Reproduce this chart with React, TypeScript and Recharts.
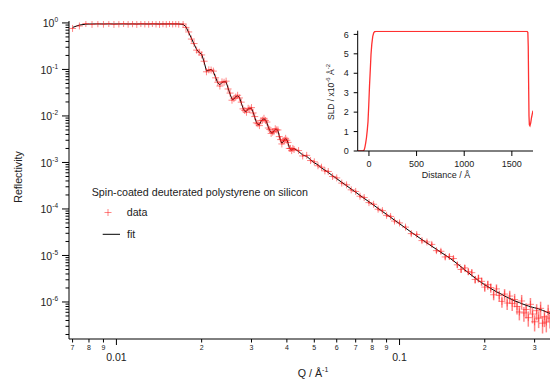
import React from "react";
import {
  ComposedChart,
  LineChart,
  Line,
  Scatter,
  ErrorBar,
  XAxis,
  YAxis,
} from "recharts";

// Q (1/Å) shared by data and fit
const qValues = [
  0.007, 0.0074, 0.0078, 0.0082, 0.0086, 0.009, 0.0094, 0.0098, 0.0102, 0.0106,
  0.011, 0.0114, 0.0118, 0.0122, 0.0126, 0.013, 0.0134, 0.0138, 0.0142, 0.0146,
  0.015, 0.0154, 0.0158, 0.0162, 0.0166,
  0.0172, 0.0176, 0.018, 0.0184, 0.0188, 0.0192, 0.0196, 0.02,
  0.0204, 0.0208, 0.0212, 0.0216, 0.022, 0.0224, 0.0228, 0.0232,
  0.0236, 0.024, 0.0244, 0.0248, 0.0252, 0.0256, 0.026, 0.0264,
  0.0268, 0.0272, 0.0276, 0.028, 0.0284, 0.0288, 0.0292, 0.0296,
  0.03, 0.0304, 0.0308, 0.0312, 0.0316, 0.032, 0.0324, 0.0328,
  0.0332, 0.0336, 0.034, 0.0344, 0.0348, 0.0352, 0.0356, 0.036,
  0.0364, 0.0368, 0.0372, 0.0376, 0.038, 0.0384, 0.0388, 0.0392,
  0.0396, 0.04, 0.0404, 0.0408, 0.0412, 0.0416, 0.042, 0.0424,
  0.044, 0.0455, 0.047, 0.0485, 0.05, 0.0515, 0.053, 0.0545, 0.056, 0.058,
  0.06, 0.0625, 0.065, 0.0675, 0.07, 0.0725, 0.075, 0.078, 0.081, 0.084,
  0.087, 0.09, 0.093, 0.096, 0.1,
  0.105, 0.11, 0.115, 0.12, 0.125, 0.13, 0.135, 0.14, 0.145, 0.15,
  0.155, 0.16, 0.165, 0.17, 0.175, 0.18, 0.185, 0.19, 0.195, 0.2,
  0.205, 0.21, 0.215, 0.22, 0.225, 0.23, 0.235, 0.24, 0.245, 0.25,
  0.255, 0.26, 0.265, 0.27, 0.275, 0.28, 0.285, 0.29, 0.295, 0.3,
  0.305, 0.31, 0.315, 0.32, 0.325, 0.33, 0.335, 0.34,
];

const fitValues = [
  0.8, 0.9, 0.94, 0.95, 0.95, 0.95, 0.95, 0.95, 0.95, 0.95,
  0.95, 0.95, 0.95, 0.95, 0.95, 0.95, 0.95, 0.95, 0.95, 0.95,
  0.95, 0.95, 0.95, 0.95, 0.95,
  0.93, 0.83, 0.62, 0.47, 0.35, 0.27, 0.23, 0.214,
  0.145, 0.093, 0.095, 0.101, 0.089, 0.068, 0.051, 0.0468,
  0.0525, 0.0547, 0.0537, 0.0398, 0.0295, 0.0229, 0.0229, 0.0263,
  0.0269, 0.0251, 0.0191, 0.0148, 0.0126, 0.0126, 0.0141, 0.0146,
  0.0145, 0.012, 0.0093, 0.0074, 0.0065, 0.0065, 0.0076, 0.0084,
  0.0086, 0.0083, 0.0071, 0.00575, 0.0049, 0.00437, 0.00427, 0.00479,
  0.00513, 0.00518, 0.00479, 0.00372, 0.00295, 0.0026, 0.00275, 0.00309,
  0.0032, 0.00309, 0.00257, 0.00209, 0.00191, 0.00186, 0.00195, 0.002,
  1.72e-3, 1.45e-3, 1.35e-3, 1.15e-3, 9.8e-4, 8.9e-4, 7.6e-4, 6.85e-4, 6.1e-4, 5.2e-4,
  4.48e-4, 3.75e-4, 3.16e-4, 2.68e-4, 2.29e-4, 1.96e-4, 1.69e-4, 1.43e-4, 1.21e-4, 1.03e-4,
  8.85e-5, 7.64e-5, 6.61e-5, 5.75e-5, 4.82e-5,
  3.89e-5, 3.16e-5, 2.63e-5, 2.19e-5, 1.86e-5, 1.58e-5, 1.36e-5, 1.17e-5, 1.02e-5, 8.9e-6,
  7.7e-6, 6.6e-6, 5.7e-6, 4.9e-6, 4.27e-6, 3.72e-6, 3.27e-6, 2.88e-6, 2.6e-6, 2.34e-6,
  2.14e-6, 1.95e-6, 1.8e-6, 1.66e-6, 1.55e-6, 1.45e-6, 1.35e-6, 1.26e-6, 1.19e-6, 1.12e-6,
  1.06e-6, 1.01e-6, 9.7e-7, 9.2e-7, 8.85e-7, 8.5e-7, 8.2e-7, 7.9e-7, 7.7e-7, 7.5e-7,
  7.3e-7, 7.1e-7, 6.85e-7, 6.6e-7, 6.35e-7, 6.1e-7, 5.9e-7, 5.7e-7,
];

const dataValues = [
  0.76, 0.86, 0.97, 0.93, 0.96, 0.94, 0.97, 0.93, 0.95, 0.97,
  0.94, 0.96, 0.93, 0.97, 0.95, 0.94, 0.97, 0.95, 0.93, 0.96,
  0.94, 0.97, 0.95, 0.96, 0.94,
  0.95, 0.8, 0.64, 0.45, 0.36, 0.26, 0.235, 0.205,
  0.15, 0.089, 0.098, 0.097, 0.092, 0.066, 0.053, 0.044,
  0.054, 0.053, 0.056, 0.038, 0.031, 0.0218, 0.0236, 0.0255,
  0.0278, 0.0244, 0.0198, 0.0142, 0.0131, 0.012, 0.0146, 0.014,
  0.0151, 0.0116, 0.0097, 0.0071, 0.0068, 0.0062, 0.0079, 0.0081,
  0.0089, 0.008, 0.0074, 0.0055, 0.0051, 0.0042, 0.0045, 0.0046,
  0.0053, 0.005, 0.005, 0.0036, 0.0031, 0.0025, 0.0029, 0.003,
  0.0033, 0.003, 0.0027, 0.002, 0.002, 0.0018, 0.002, 0.0019,
  1.8e-3, 1.38e-3, 1.42e-3, 1.1e-3, 1.03e-3, 8.5e-4, 7.9e-4, 6.6e-4, 6.4e-4, 5.0e-4,
  4.65e-4, 3.6e-4, 3.3e-4, 2.58e-4, 2.38e-4, 1.88e-4, 1.76e-4, 1.37e-4, 1.26e-4, 9.9e-5,
  9.2e-5, 7.3e-5, 6.9e-5, 5.5e-5, 5.0e-5,
  4.07e-5, 2.95e-5, 2.82e-5, 2.09e-5, 1.95e-5, 1.73e-5, 1.27e-5, 1.23e-5, 9.3e-6, 9.5e-6,
  8.6e-6, 6.3e-6, 5.0e-6, 5.4e-6, 4.5e-6, 4.27e-6, 3.05e-6, 3.23e-6, 2.78e-6, 2.09e-6,
  2.35e-6, 2.04e-6, 1.43e-6, 1.91e-6, 1.38e-6, 1.03e-6, 1.48e-6, 9.5e-7, 1.34e-6, 9.3e-7,
  1.13e-6, 8.0e-7, 6.1e-7, 1.05e-6, 5.8e-7, 6.9e-7, 4.6e-7, 8.9e-7, 5.5e-7, 3.75e-7,
  6.5e-7, 4.5e-7, 7.3e-7, 3.5e-7, 4.8e-7, 3.7e-7, 6.2e-7, 4.5e-7,
];

// error bar size in % of the value
const errPct = [
  2, 2, 2, 2, 2, 2, 2, 2, 2, 2, 2, 2, 2, 2, 2, 2, 2, 2, 2, 2, 2, 2, 2, 2, 2,
  3, 3, 3, 3, 3, 3, 3, 3, 3, 3, 3, 3, 3, 3, 3, 3,
  3, 3, 3, 3, 3, 3, 3, 3, 3, 3, 3, 3, 3, 3, 3, 3,
  3, 3, 3, 3, 3, 3, 3, 3, 3, 3, 3, 3, 3, 3, 3, 3,
  3, 3, 3, 3, 3, 3, 3, 3, 3, 3, 3, 3, 3, 3, 3, 3,
  4, 4, 4, 4, 5, 5, 5, 5, 5, 5, 6, 6, 6, 6, 6, 7, 7, 7, 7, 8, 8, 8, 8, 8, 8,
  8, 9, 9, 10, 10, 11, 11, 12, 12, 13, 13, 14, 15, 15, 16, 17, 18, 19, 20, 21,
  22, 23, 24, 25, 26, 27, 28, 29, 30, 31, 32, 33, 34, 35, 35, 36, 36, 37, 37, 38,
  38, 39, 39, 40, 40, 40, 40, 40,
];

const xTicks = [0.007, 0.008, 0.009, 0.01, 0.02, 0.03, 0.04, 0.05, 0.06, 0.07, 0.08, 0.09, 0.1, 0.2, 0.3];
const yDecades = [1e-7, 1e-6, 1e-5, 1e-4, 1e-3, 1e-2, 1e-1, 1];
const yMinor = [2, 3, 4, 5, 6, 7, 8, 9];
const yTicks = yDecades
  .flatMap((d) => [d, ...yMinor.map((m) => d * m)])
  .filter((v) => v >= 1.6e-7 && v <= 1.05);

// inset: SLD profile
const distance = [-118, -80, -60, -50, -42, -34, -26, -18, -10, -2, 6, 14, 22, 30, 40, 50, 60, 80, 400, 800, 1200, 1660, 1668, 1672, 1676, 1680, 1684, 1690, 1698, 1706, 1714, 1722];
const sld = [0, 0, 0, 0.05, 0.2, 0.42, 0.68, 1.05, 1.5, 2.35, 3.35, 4.16, 5.0, 5.5, 5.9, 6.08, 6.14, 6.16, 6.16, 6.16, 6.16, 6.16, 6.1, 5.4, 3.5, 1.8, 1.35, 1.3, 1.45, 1.7, 1.9, 2.07];
const insetXTicks = [0, 500, 1000, 1500];
const insetYTicks = [0, 1, 2, 3, 4, 5, 6];

const rows = qValues.map((q, i) => ({
  q,
  r: dataValues[i],
  fit: fitValues[i],
  err: (dataValues[i] * errPct[i]) / 100,
}));
const sldRows = distance.map((d, i) => ({ d, sld: sld[i] }));

const RED = "#ff2020";
const FONT = "'Liberation Sans', Arial, sans-serif";

function Plus(props: any) {
  const { cx, cy } = props;
  if (cx == null || cy == null) return null;
  return (
    <g stroke={RED} strokeOpacity={0.55} strokeWidth={1}>
      <line x1={cx - 3.5} x2={cx + 3.5} y1={cy} y2={cy} />
      <line x1={cx} x2={cx} y1={cy - 3.5} y2={cy + 3.5} />
    </g>
  );
}

function isDecade(v: number) {
  const lg = Math.log10(v);
  return Math.abs(lg - Math.round(lg)) < 1e-6;
}

function XTick(props: any) {
  const { x, y, payload } = props;
  const v = payload.value;
  const major = isDecade(v);
  const lead = Math.round(v / Math.pow(10, Math.floor(Math.log10(v) + 1e-9)));
  return (
    <g>
      <line x1={x} x2={x} y1={y} y2={y + (major ? 6 : 3.5)} stroke="#000" />
      <text x={x} y={y + (major ? 22 : 11)} textAnchor="middle" fontSize={major ? 10.5 : 7} fill="#222">
        {major ? String(v) : lead}
      </text>
    </g>
  );
}

function YTick(props: any) {
  const { x, y, payload } = props;
  const v = payload.value;
  const major = isDecade(v);
  const exp = Math.round(Math.log10(v));
  return (
    <g>
      <line x1={x - (major ? 7 : 3.5)} x2={x} y1={y} y2={y} stroke="#000" />
      {major && (
        <text x={x - 11} y={y + 4.5} textAnchor="end" fontSize={10.5} fill="#222">
          10
          <tspan dy={-5} fontSize={6.5}>
            {exp}
          </tspan>
        </text>
      )}
    </g>
  );
}

export default function App() {
  return (
    <div style={{ position: "absolute", left: 0, top: 0, width: 550, height: 379, background: "#fff", fontFamily: FONT }}>
      <div style={{ position: "absolute", left: 0, top: 0 }}>
        <ComposedChart width={550} height={379} data={rows} margin={{ top: 21, right: 0, bottom: 0, left: 0 }}>
          <XAxis
            dataKey="q"
            type="number"
            scale="log"
            domain={[0.0068, 0.34]}
            allowDataOverflow
            ticks={xTicks}
            tick={<XTick />}
            tickLine={false}
            tickSize={0}
            tickMargin={0}
            height={40}
            axisLine={{ stroke: "#000" }}
            interval={0}
          />
          <YAxis
            type="number"
            scale="log"
            domain={[1.6e-7, 1.1]}
            allowDataOverflow
            ticks={yTicks}
            tick={<YTick />}
            tickLine={false}
            tickSize={0}
            tickMargin={0}
            width={69}
            axisLine={{ stroke: "#000" }}
            interval={0}
          />
          <Scatter dataKey="r" shape={<Plus />} isAnimationActive={false}>
            <ErrorBar dataKey="err" direction="y" width={0} stroke={RED} strokeOpacity={0.55} />
          </Scatter>
          <Line dataKey="fit" type="linear" stroke="#000" strokeWidth={1} dot={false} isAnimationActive={false} />
        </ComposedChart>
      </div>

      <div style={{ position: "absolute", left: 310, top: 10 }}>
        <LineChart width={240} height={175} data={sldRows} margin={{ top: 20.7, right: 17, bottom: 0, left: 0 }}>
          <XAxis
            dataKey="d"
            type="number"
            domain={[-118, 1722]}
            allowDataOverflow
            ticks={insetXTicks}
            tickSize={5}
            tickMargin={5}
            height={34}
            tick={{ fontSize: 9, fill: "#222" }}
            tickLine={{ stroke: "#000" }}
            axisLine={{ stroke: "#000" }}
            interval={0}
          />
          <YAxis
            type="number"
            domain={[0, 6.19]}
            allowDataOverflow
            ticks={insetYTicks}
            tickSize={4}
            tickMargin={5}
            width={47.7}
            tick={{ fontSize: 9, fill: "#222" }}
            tickLine={{ stroke: "#000" }}
            axisLine={{ stroke: "#000" }}
            interval={0}
          />
          <Line dataKey="sld" type="linear" stroke="#ff3030" strokeWidth={1.3} dot={false} isAnimationActive={false} />
        </LineChart>
      </div>

      <svg width={550} height={379} style={{ position: "absolute", left: 0, top: 0, pointerEvents: "none" }} fontFamily={FONT}>
        <text x={91.7} y={196} fontSize={10.7} fill="#222">Spin-coated deuterated polystyrene on silicon</text>
        <Plus cx={108} cy={212.5} />
        <text x={126.7} y={216} fontSize={10.7} fill="#222">data</text>
        <line x1={102.7} x2={120} y1={234.3} y2={234.3} stroke="#000" />
        <text x={127} y={237.7} fontSize={10.7} fill="#222">fit</text>

        <text x={22} y={177} fontSize={10.7} fill="#222" textAnchor="middle" transform="rotate(-90 22 177)">Reflectivity</text>
        <text x={313} y={377} fontSize={10.7} fill="#222" textAnchor="middle">
          Q / Å<tspan dy={-5} fontSize={7}>-1</tspan>
        </text>

        <text x={334} y={92} fontSize={8.5} fill="#222" textAnchor="middle" transform="rotate(-90 334 92)">
          SLD / x10<tspan dy={-4} fontSize={6}>-6</tspan>
          <tspan dy={4}> Å</tspan>
          <tspan dy={-4} fontSize={6}>-2</tspan>
        </text>
        <text x={446} y={178} fontSize={9} fill="#222" textAnchor="middle">Distance / Å</text>
      </svg>
    </div>
  );
}
